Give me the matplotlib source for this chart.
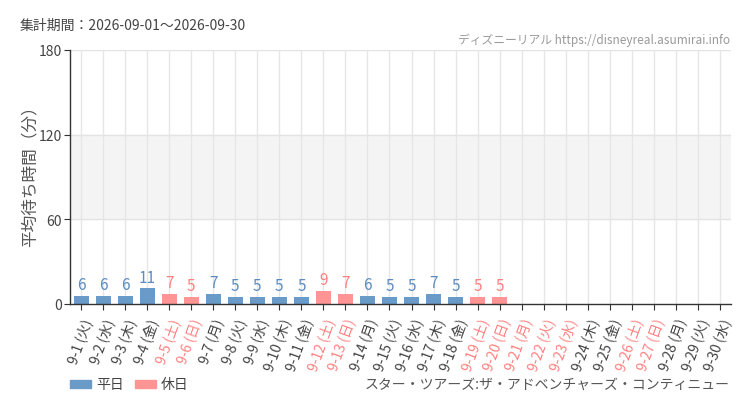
import matplotlib
matplotlib.use("Agg")
import matplotlib.pyplot as plt
from matplotlib.patches import Rectangle
import numpy as np

plt.rcParams['font.family'] = ['Noto Sans CJK JP', 'DejaVu Sans']

dates = ["9-1", "9-2", "9-3", "9-4", "9-5", "9-6", "9-7", "9-8", "9-9", "9-10",
         "9-11", "9-12", "9-13", "9-14", "9-15", "9-16", "9-17", "9-18", "9-19", "9-20",
         "9-21", "9-22", "9-23", "9-24", "9-25", "9-26", "9-27", "9-28", "9-29", "9-30"]
weekdays = ["火", "水", "木", "金", "土", "日", "月", "火", "水", "木",
            "金", "土", "日", "月", "火", "水", "木", "金", "土", "日",
            "月", "火", "水", "木", "金", "土", "日", "月", "火", "水"]
values = [6, 6, 6, 11, 7, 5, 7, 5, 5, 5, 5, 9, 7, 6, 5, 5, 7, 5, 5, 5,
          None, None, None, None, None, None, None, None, None, None]
holidays = [5, 6, 12, 13, 19, 20, 21, 22, 23, 26, 27]  # day numbers
yticks = [0, 60, 120, 180]

blue = "#6a9ac7"
red = "#ff9494"
blue_txt = "#5b8bc0"
red_txt = "#ff8080"

fig = plt.figure(figsize=(7.5, 4.1), dpi=100)
ax = fig.add_axes([70/750, 1-305/410, 661/750, 254/410])

n = len(dates)
x = np.arange(n)
ax.set_xlim(-0.5, n-0.5)
ax.set_ylim(0, 180)

ax.axhspan(60, 120, color="#f4f4f4", zorder=0)
for yv in yticks[1:]:
    ax.axhline(yv, color="#e3e3e3", lw=1, zorder=0.5)
for xi in x:
    ax.axvline(xi, color="#e6e6e6", lw=1, zorder=0.5)

for i, v in enumerate(values):
    day = i + 1
    hol = day in holidays
    if v is None:
        continue
    ax.bar(i, v, width=0.68, color=red if hol else blue, zorder=2)
    ax.text(i, v + 2, str(v), ha="center", va="bottom", fontsize=11,
            color=red_txt if hol else blue_txt, zorder=3)

ax.set_xticks(x)
labels = [f"{d} ({w})" for d, w in zip(dates, weekdays)]
ax.set_xticklabels(labels, rotation=70, ha="right", rotation_mode="anchor", fontsize=10)
for i, t in enumerate(ax.get_xticklabels()):
    t.set_color(red_txt if (i + 1) in holidays else "#444444")
ax.set_yticks(yticks)
ax.set_yticklabels([str(v) for v in yticks], fontsize=10, color="#444444")
ax.tick_params(axis="x", length=4, color="#333333", pad=5)
ax.tick_params(axis="y", length=4, color="#333333", pad=2)

for s in ["top", "right"]:
    ax.spines[s].set_visible(False)
for s in ["left", "bottom"]:
    ax.spines[s].set_color("#333333")
    ax.spines[s].set_linewidth(1)

fig.text(30/750, 1-172/410, "平均待ち時間（分）", rotation=90, ha="center", va="center",
         fontsize=12, color="#555555")

fig.text(20/750, 1-26/410, "集計期間：2026-09-01～2026-09-30", ha="left", va="center",
         fontsize=10, color="#444444")
fig.text(730/750, 1-40/410, "ディズニーリアル https://disneyreal.asumirai.info", ha="right",
         va="center", fontsize=8.5, color="#999999")
fig.text(730/750, 1-385/410, "スター・ツアーズ:ザ・アドベンチャーズ・コンティニュー", ha="right",
         va="center", fontsize=10, color="#555555")

fig.patches.append(Rectangle((70/750, 1-389/410), 21/750, 8/410, transform=fig.transFigure,
                             color=blue, figure=fig))
fig.text(96/750, 1-385/410, "平日", ha="left", va="center", fontsize=10, color="#444444")
fig.patches.append(Rectangle((135/750, 1-389/410), 21/750, 8/410, transform=fig.transFigure,
                             color=red, figure=fig))
fig.text(161/750, 1-385/410, "休日", ha="left", va="center", fontsize=10, color="#444444")

fig.savefig("out.png", dpi=100)
